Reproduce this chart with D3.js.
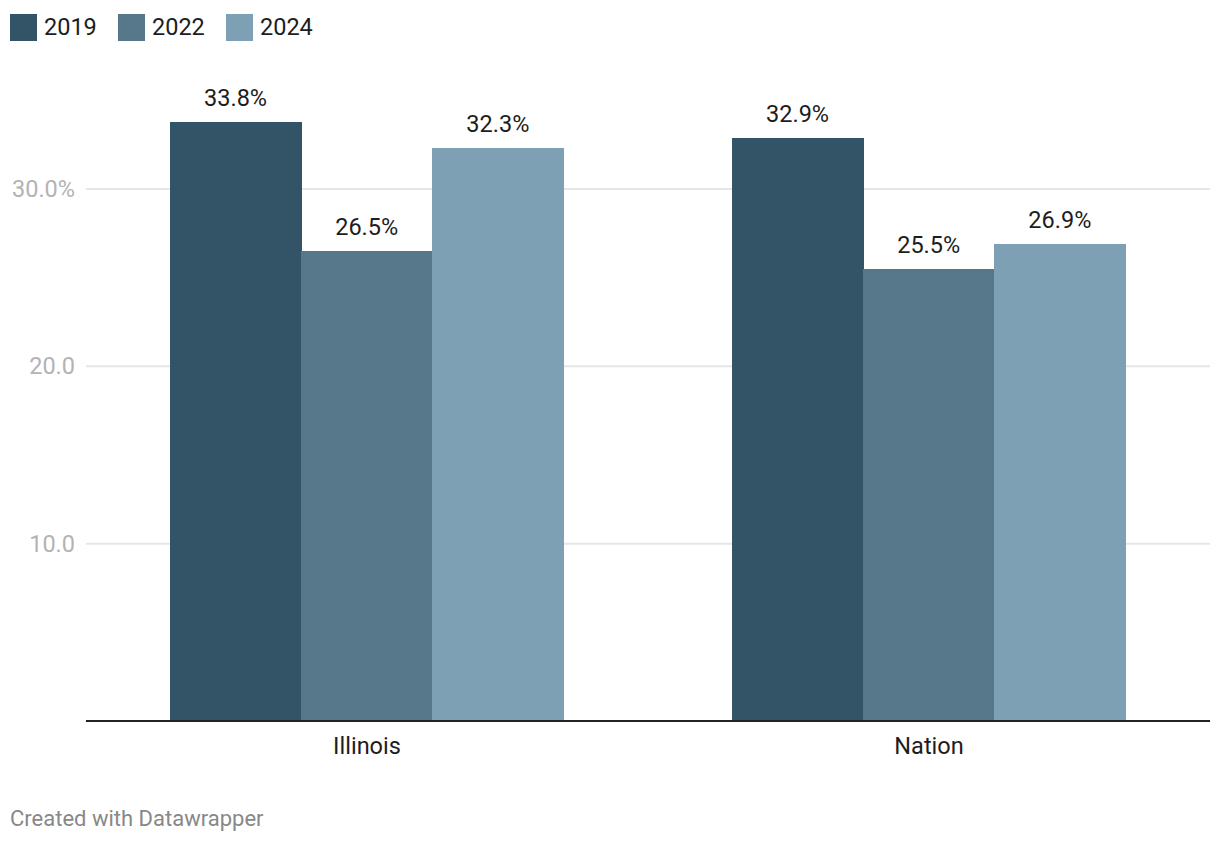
<!DOCTYPE html>
<html lang="en">
<head>
<meta charset="utf-8">
<title>Illinois vs Nation</title>
<script src="https://cdn.jsdelivr.net/npm/d3@7"></script>
<style>
  body { margin: 0; background: #fff; font-family: Roboto, "Noto Sans", sans-serif; }
</style>
</head>
<body>
<script>
// data
var categories = ["Illinois", "Nation"];
var years = ["2019", "2022", "2024"];
var values2019 = [33.8, 32.9];
var values2022 = [26.5, 25.5];
var values2024 = [32.3, 26.9];
var tickValues = [10, 20, 30];
var colors = ["#335467", "#56788a", "#7ea0b4"];

var series = [values2019, values2022, values2024];

var W = 1220, H = 844;
var left = 86, right = 1210, base = 721;

var svg = d3.select("body").append("svg")
  .attr("width", W).attr("height", H);

var x = d3.scaleBand().domain(categories).range([left, right]).paddingInner(0.3).paddingOuter(0.15);
var xi = d3.scaleBand().domain(years).range([0, x.bandwidth()]);
var y = d3.scaleLinear().domain([0, 30]).range([base, 189]);

// gridlines
svg.append("g").selectAll("line").data(tickValues).enter().append("line")
  .attr("x1", left).attr("x2", right)
  .attr("y1", function(d) { return y(d); })
  .attr("y2", function(d) { return y(d); })
  .attr("stroke", "#e6e6e6").attr("stroke-width", 2);

// y labels
svg.append("g").selectAll("text").data(tickValues).enter().append("text")
  .attr("x", 75)
  .attr("y", function(d) { return y(d) + 8; })
  .attr("text-anchor", "end")
  .attr("font-size", 23.5)
  .attr("fill", "#b3b3b3")
  .text(function(d) { return d === 30 ? "30.0%" : d.toFixed(1); });

// bars
var groups = svg.append("g").selectAll("g").data(categories).enter().append("g")
  .attr("transform", function(d) { return "translate(" + Math.round(x(d)) + ",0)"; });

groups.each(function(cat, ci) {
  var g = d3.select(this);
  years.forEach(function(yr, si) {
    var v = series[si][ci];
    g.append("rect")
      .attr("x", xi(yr))
      .attr("y", y(v))
      .attr("width", xi.bandwidth() + 0.5)
      .attr("height", base - y(v))
      .attr("fill", colors[si])
      .attr("shape-rendering", "crispEdges");
    g.append("text")
      .attr("x", xi(yr) + xi.bandwidth() / 2)
      .attr("y", y(v) - 16)
      .attr("text-anchor", "middle")
      .attr("font-size", 23.5)
      .attr("fill", "#1d1d1d")
      .text(v.toFixed(1) + "%");
  });
});

// baseline
svg.append("line")
  .attr("x1", left).attr("x2", right)
  .attr("y1", base).attr("y2", base)
  .attr("stroke", "#222").attr("stroke-width", 2);

// x labels
svg.append("g").selectAll("text").data(categories).enter().append("text")
  .attr("x", function(d) { return x(d) + x.bandwidth() / 2; })
  .attr("y", 754)
  .attr("text-anchor", "middle")
  .attr("font-size", 23.5)
  .attr("fill", "#1d1d1d")
  .text(function(d) { return d; });

// legend
var legendX = [10, 118, 226];
var legend = svg.append("g").selectAll("g").data(years).enter().append("g")
  .attr("transform", function(d, i) { return "translate(" + legendX[i] + ",14)"; });
legend.append("rect").attr("width", 27).attr("height", 27)
  .attr("fill", function(d, i) { return colors[i]; });
legend.append("text").attr("x", 34).attr("y", 21)
  .attr("font-size", 23.5).attr("fill", "#1d1d1d")
  .text(function(d) { return d; });

// footer
svg.append("text").attr("x", 10).attr("y", 826)
  .attr("font-size", 22).attr("fill", "#888")
  .text("Created with Datawrapper");
</script>
</body>
</html>
